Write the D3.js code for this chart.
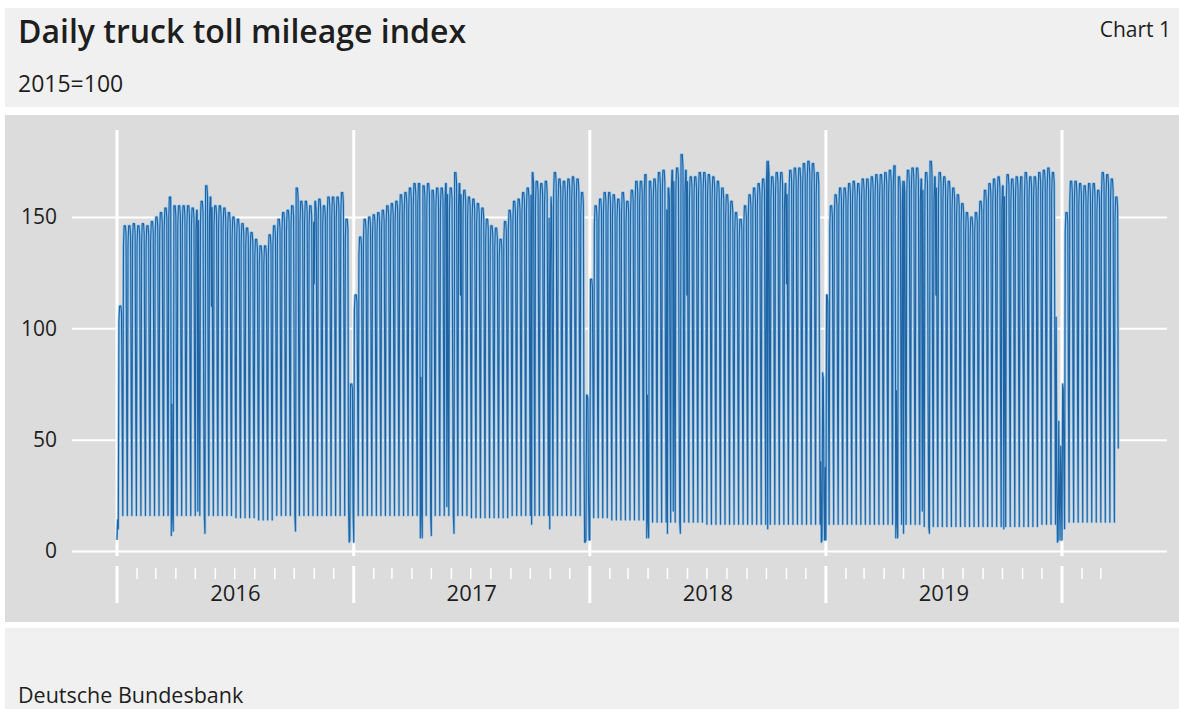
<!DOCTYPE html>
<html>
<head>
<meta charset="utf-8">
<script src="https://cdn.jsdelivr.net/npm/d3@7"></script>
<style>
  body { margin: 0; background: #ffffff; }
  svg text { font-family: "Open Sans", "Noto Sans", sans-serif; fill: #1e1e1e; }
</style>
</head>
<body>
<svg id="chart" width="1179" height="709"></svg>
<script>
// ---- Data -------------------------------------------------------------
// Mid-week (Tue–Thu) index level per week. Each year's list starts
// with the week whose Monday falls on or before 1 January.
const weekday2016 = [5, 110, 146, 146, 147, 146, 147, 146, 148, 150, 152, 154, 159,
  155, 155, 155, 155, 154, 153, 157, 164, 159, 155, 155, 154, 152, 150, 149, 147,
  145, 143, 140, 137, 137, 142, 146, 149, 152, 153, 155, 163, 157, 157, 155, 157,
  158, 155, 159, 159, 159, 161, 149, 75];
const weekday2017 = [75, 115, 141, 149, 150, 151, 152, 153, 155, 156, 157, 160, 161,
  163, 165, 165, 164, 165, 162, 163, 163, 165, 163, 170, 165, 162, 159, 158, 156,
  154, 149, 146, 145, 140, 148, 153, 157, 158, 161, 163, 170, 166, 165, 166, 159,
  170, 167, 166, 167, 168, 167, 161, 70];
const weekday2018 = [122, 155, 158, 161, 161, 160, 158, 161, 157, 162, 166, 166, 169,
  166, 167, 170, 171, 163, 171, 172, 178, 171, 168, 168, 170, 170, 169, 168, 166,
  163, 160, 157, 152, 149, 155, 160, 163, 165, 167, 175, 168, 170, 170, 165, 171,
  172, 172, 174, 175, 174, 170, 80, 40];
const weekday2019 = [115, 155, 160, 163, 163, 165, 166, 165, 167, 167, 168, 169, 169,
  170, 171, 173, 168, 166, 171, 172, 172, 167, 170, 175, 168, 170, 168, 166, 163,
  160, 156, 152, 150, 152, 157, 162, 165, 167, 168, 164, 169, 167, 168, 168, 170,
  168, 168, 170, 171, 172, 170, 60, 50];
const weekday2020 = [75, 152, 166, 166, 165, 164, 165, 165, 162, 170, 169, 167, 159];

// Monday and Friday run a little below mid-week
const workdayRatio = [0.94, 1, 1, 1, 0.97]; // Mon … Fri

// Typical Saturday and Sunday levels, by month (Jan … Dec)
const saturday2016 = [62, 64, 66, 68, 68, 68, 66, 64, 68, 74, 82, 88];
const sunday2016   = [16, 16, 16, 16, 16, 16, 15, 14, 16, 16, 16, 16];
const saturday2017 = [72, 74, 76, 78, 78, 78, 76, 74, 78, 82, 86, 88];
const sunday2017   = [16, 16, 16, 16, 16, 16, 15, 15, 16, 16, 16, 16];
const saturday2018 = [66, 68, 70, 72, 72, 72, 70, 68, 70, 74, 80, 84];
const sunday2018   = [15, 14, 14, 13, 13, 13, 12, 12, 12, 12, 12, 12];
const saturday2019 = [66, 68, 70, 72, 72, 72, 70, 68, 70, 74, 80, 84];
const sunday2019   = [12, 12, 12, 12, 12, 11, 11, 11, 11, 11, 11, 12];
const saturday2020 = [68, 70, 70];
const sunday2020   = [13, 13, 13];

// Public holidays and the days around Christmas / New Year
const specialDays = [
  ["2016-01-01", 5], ["2016-01-02", 14], ["2016-01-03", 10],
  ["2016-03-25", 7], ["2016-03-28", 9], ["2016-05-05", 18], ["2016-05-16", 8],
  ["2016-05-26", 110], ["2016-10-03", 9], ["2016-11-01", 120],
  ["2016-12-24", 20], ["2016-12-25", 4], ["2016-12-26", 5], ["2016-12-31", 18],
  ["2017-01-01", 4], ["2017-04-14", 6], ["2017-04-17", 6], ["2017-05-01", 7],
  ["2017-05-25", 20], ["2017-06-05", 8], ["2017-06-15", 115], ["2017-10-03", 12],
  ["2017-10-31", 10], ["2017-11-01", 120], ["2017-12-23", 45], ["2017-12-24", 4],
  ["2017-12-25", 4], ["2017-12-26", 5], ["2017-12-30", 25], ["2017-12-31", 5],
  ["2018-01-01", 5], ["2018-03-30", 6], ["2018-04-02", 6], ["2018-05-01", 8],
  ["2018-05-10", 18], ["2018-05-21", 8], ["2018-05-31", 115], ["2018-10-03", 10],
  ["2018-11-01", 120], ["2018-12-24", 40], ["2018-12-25", 4], ["2018-12-26", 5],
  ["2018-12-29", 25], ["2018-12-30", 5],
  ["2019-01-01", 5], ["2019-04-19", 6], ["2019-04-22", 6], ["2019-05-01", 8],
  ["2019-05-30", 18], ["2019-06-10", 8], ["2019-06-20", 115], ["2019-10-03", 10],
  ["2019-11-01", 110], ["2019-12-23", 105], ["2019-12-24", 35], ["2019-12-25", 4],
  ["2019-12-26", 5], ["2019-12-28", 22], ["2019-12-29", 5], ["2019-12-31", 25],
  ["2020-01-01", 5], ["2020-01-04", 35], ["2020-01-05", 10], ["2020-03-28", 46]
];

const firstDay = "2016-01-01";
const lastDay = "2020-03-28";
const years = [2016, 2017, 2018, 2019];
const yTicks = [0, 50, 100, 150];

// ---- Daily series -----------------------------------------------------
const weekdayByYear  = {2016: weekday2016, 2017: weekday2017, 2018: weekday2018, 2019: weekday2019, 2020: weekday2020};
const saturdayByYear = {2016: saturday2016, 2017: saturday2017, 2018: saturday2018, 2019: saturday2019, 2020: saturday2020};
const sundayByYear   = {2016: sunday2016, 2017: sunday2017, 2018: sunday2018, 2019: sunday2019, 2020: sunday2020};
const special = new Map(specialDays);
const parseDay = d3.utcParse("%Y-%m-%d");
const formatDay = d3.utcFormat("%Y-%m-%d");

const series = d3.utcDay.range(parseDay(firstDay), d3.utcDay.offset(parseDay(lastDay), 1)).map(date => {
  const key = formatDay(date);
  if (special.has(key)) return {date, value: special.get(key)};
  const yr = date.getUTCFullYear(), mon = date.getUTCMonth(), dow = date.getUTCDay();
  if (dow === 6) return {date, value: saturdayByYear[yr][mon]};
  if (dow === 0) return {date, value: sundayByYear[yr][mon]};
  const week = d3.utcMonday.count(d3.utcMonday.floor(Date.UTC(yr, 0, 1)), date);
  return {date, value: weekdayByYear[yr][week] * workdayRatio[dow - 1]};
});

// ---- Layout -----------------------------------------------------------
const svg = d3.select("#chart");
const W = 1179, H = 709;
const plotLeft = 72, plotRight = 1167;

svg.append("rect").attr("x", 5).attr("y", 8).attr("width", W - 5).attr("height", 99).attr("fill", "#f0f0f0");
svg.append("rect").attr("x", 5).attr("y", 115).attr("width", W - 5).attr("height", 507).attr("fill", "#dcdcdc");
svg.append("rect").attr("x", 5).attr("y", 628).attr("width", W - 5).attr("height", H - 628).attr("fill", "#f0f0f0");

svg.append("text").attr("x", 18).attr("y", 43).attr("font-size", 32).attr("font-weight", 600)
  .text("Daily truck toll mileage index");
svg.append("text").attr("x", 18).attr("y", 92).attr("font-size", 23).text("2015=100");
svg.append("text").attr("x", 1171).attr("y", 37).attr("font-size", 21).attr("text-anchor", "end").text("Chart 1");
svg.append("text").attr("x", 18).attr("y", 703).attr("font-size", 21.5).text("Deutsche Bundesbank");

// ---- Scales -----------------------------------------------------------
const x = d3.scaleUtc()
  .domain([Date.UTC(2016, 0, 1), Date.UTC(2020, 0, 1)])
  .range([117, 1062]);
const y = d3.scaleLinear().domain([0, 150]).range([551, 217]);

// Horizontal grid + value labels
const yAxis = svg.append("g")
  .attr("transform", `translate(${plotLeft},0)`)
  .call(d3.axisLeft(y).tickValues(yTicks).tickSize(-(plotRight - plotLeft)).tickPadding(15).tickFormat(d3.format("d")));
yAxis.select(".domain").remove();
yAxis.selectAll(".tick line").attr("stroke", "#ffffff").attr("stroke-width", 2);
yAxis.selectAll(".tick text").attr("font-size", 21).attr("fill", "#2a2a2a")
  .attr("font-family", "'Open Sans', 'Noto Sans', sans-serif");

// Year boundaries
const yearStarts = d3.utcYear.range(Date.UTC(2016, 0, 1), Date.UTC(2020, 0, 2));
const gYears = svg.append("g");
gYears.selectAll("line.grid").data(yearStarts).join("line")
  .attr("class", "grid")
  .attr("x1", d => x(d)).attr("x2", d => x(d))
  .attr("y1", 130).attr("y2", 556)
  .attr("stroke", "#ffffff").attr("stroke-width", 3);
gYears.selectAll("line.major").data(yearStarts).join("line")
  .attr("class", "major")
  .attr("x1", d => x(d)).attr("x2", d => x(d))
  .attr("y1", 566).attr("y2", 603)
  .attr("stroke", "#ffffff").attr("stroke-width", 3);

// Monthly ticks
const months = d3.utcMonth.range(Date.UTC(2016, 1, 1), parseDay(lastDay))
  .filter(d => d.getUTCMonth() !== 0);
svg.append("g").selectAll("line").data(months).join("line")
  .attr("x1", d => x(d)).attr("x2", d => x(d))
  .attr("y1", 568).attr("y2", 579)
  .attr("stroke", "#ffffff").attr("stroke-width", 1.5);

// Year labels
svg.append("g").selectAll("text").data(years).join("text")
  .attr("x", d => (x(Date.UTC(d, 0, 1)) + x(Date.UTC(d + 1, 0, 1))) / 2)
  .attr("y", 601)
  .attr("text-anchor", "middle")
  .attr("font-size", 22)
  .attr("fill", "#2a2a2a")
  .text(d => d);

// ---- Series line ------------------------------------------------------
const line = d3.line().x(d => x(d.date)).y(d => y(d.value));
const gSeries = svg.append("g");
// soft light-blue halo under the strokes
gSeries.append("path")
  .datum(series)
  .attr("d", line)
  .attr("fill", "none")
  .attr("stroke", "#98c6ea")
  .attr("stroke-width", 2.6)
  .attr("stroke-linejoin", "round");
gSeries.append("path")
  .datum(series)
  .attr("d", line)
  .attr("fill", "none")
  .attr("stroke", "#1e64a4")
  .attr("stroke-width", 1.15)
  .attr("stroke-linejoin", "round");
</script>
</body>
</html>
